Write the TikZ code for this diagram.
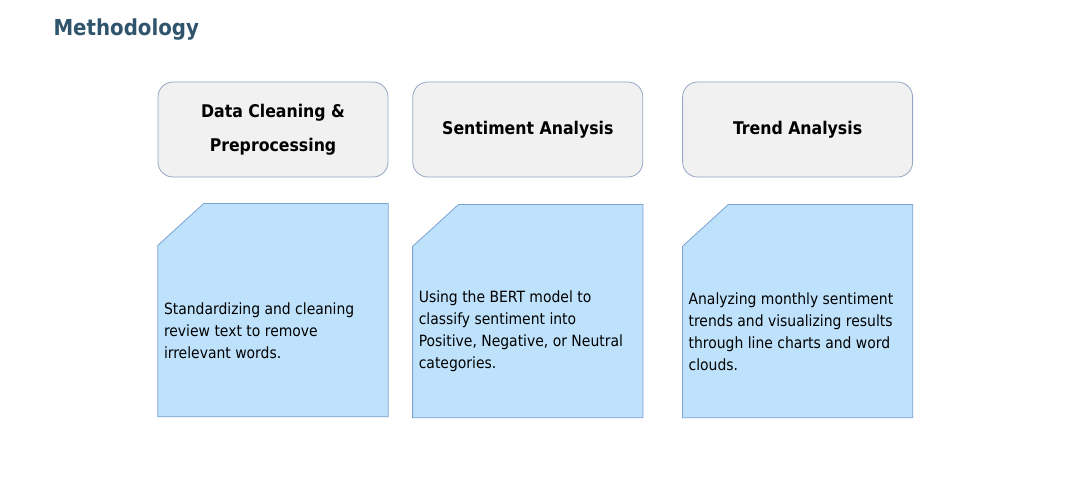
\documentclass[tikz,border=0pt]{standalone}
\usepackage{fontspec}
\setmainfont{DejaVu Sans Condensed}
\usetikzlibrary{positioning}
\definecolor{titlecol}{RGB}{47,84,107}
\definecolor{hdfill}{RGB}{241,241,241}
\definecolor{hdline}{RGB}{150,166,196}
\definecolor{bdfill}{RGB}{190,226,252}
\definecolor{bdline}{RGB}{126,162,207}
\tikzstyle{hd} = [rectangle, draw=hdline, fill=hdfill, line width=0.8pt,
    rounded corners=15pt, minimum width=230pt, minimum height=95pt,
    align=center, font=\bfseries\fontsize{17.5}{34}\selectfont]
\tikzstyle{bd} = [rectangle, inner sep=0pt, minimum width=230pt, minimum height=213pt]
\tikzstyle{cut} = [draw=bdline, fill=bdfill, line width=0.8pt]
\tikzstyle{tx} = [anchor=west, align=left, inner sep=0pt,
    font=\fontsize{15.5}{22}\selectfont]
\begin{document}
\begin{tikzpicture}
  \useasboundingbox (0pt,0pt) rectangle (1071pt,-491pt);

  \node[anchor=base west,text=titlecol,font=\bfseries\fontsize{22}{26}\selectfont]
        (t) at (50pt,-35pt) {Methodology};

  \node[hd]   (1) at (273pt,-129.5pt)   {Data Cleaning \&\\Preprocessing};
  \node[hd]   (2) [right=24pt of 1]     {Sentiment Analysis};
  \node[hd]   (3) [right=39pt of 2]     {Trend Analysis};

  \node[bd]   (4) [below=26pt of 1] {};
  \node[bd]   (5) [below=27pt of 2] {};
  \node[bd]   (6) [below=27pt of 3] {};

  % cut corner cards
  \foreach \b in {4,5,6}
    \path[cut] ([yshift=-42pt]\b.north west) -- ([xshift=46pt]\b.north west)
        -- (\b.north east) -- (\b.south east) -- (\b.south west) -- cycle;

  \node[tx]   (7) at ([xshift=6pt,yshift=-20.5pt]4.west)
        {Standardizing and cleaning\\review text to remove\\irrelevant words.};
  \node[tx]   (8) at ([xshift=6pt,yshift=-20.5pt]5.west)
        {Using the BERT model to\\classify sentiment into\\Positive, Negative, or Neutral\\categories.};
  \node[tx]   (9) at ([xshift=6pt,yshift=-20.5pt]6.west)
        {Analyzing monthly sentiment\\trends and visualizing results\\through line charts and word\\clouds.};
\end{tikzpicture}
\end{document}
